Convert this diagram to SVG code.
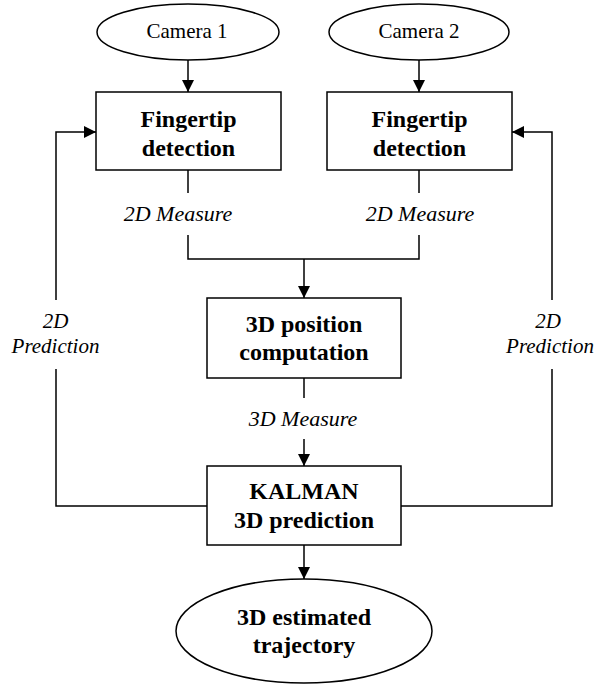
<svg xmlns="http://www.w3.org/2000/svg" width="596" height="684" viewBox="0 0 596 684">
<style>
.shape{fill:#fff;stroke:#000;stroke-width:1.5}
.ln{fill:none;stroke:#000;stroke-width:1.5}
.r{font-family:"Liberation Serif",serif;font-size:21px;text-anchor:middle}
.b{font-family:"Liberation Serif",serif;font-size:24px;font-weight:bold;text-anchor:middle}
.i{font-family:"Liberation Serif",serif;font-size:22px;font-style:italic;text-anchor:middle}
.p{font-family:"Liberation Serif",serif;font-size:21px;font-style:italic;text-anchor:middle}
</style>
<defs>
<marker id="ah" markerWidth="12" markerHeight="12" refX="12" refY="6" orient="auto" markerUnits="userSpaceOnUse">
<path d="M0,0 L12,6 L0,12 Z" fill="#000"/>
</marker>
</defs>
<rect width="596" height="684" fill="#fff"/>
<g id="connectors">
<line class="ln" x1="188" y1="60" x2="188" y2="92" marker-end="url(#ah)"/>
<line class="ln" x1="419" y1="60" x2="419" y2="92" marker-end="url(#ah)"/>
<line class="ln" x1="188" y1="170" x2="188" y2="193"/>
<line class="ln" x1="419" y1="170" x2="419" y2="193"/>
<polyline class="ln" points="188,235 188,259 419,259 419,235"/>
<line class="ln" x1="304" y1="259" x2="304" y2="298" marker-end="url(#ah)"/>
<line class="ln" x1="304" y1="378" x2="304" y2="398"/>
<line class="ln" x1="304" y1="439" x2="304" y2="466" marker-end="url(#ah)"/>
<line class="ln" x1="304" y1="545" x2="304" y2="579" marker-end="url(#ah)"/>
<polyline class="ln" points="207,506 56,506 56,369"/>
<polyline class="ln" points="56,300 56,132 96,132" marker-end="url(#ah)"/>
<polyline class="ln" points="401,506 552,506 552,369"/>
<polyline class="ln" points="552,300 552,132 512,132" marker-end="url(#ah)"/>
<text class="i" x="178" y="221">2D Measure</text>
<text class="i" x="420" y="221">2D Measure</text>
<text class="p" x="55.5" y="328">2D</text>
<text class="p" x="55.5" y="353">Prediction</text>
<text class="p" x="548" y="328">2D</text>
<text class="p" x="550" y="353">Prediction</text>
<text class="i" x="303" y="426">3D Measure</text>
</g>
<g id="camera1">
<ellipse class="shape" cx="188" cy="32" rx="91" ry="28"/>
<text class="r" x="187" y="38">Camera 1</text>
</g>
<g id="camera2">
<ellipse class="shape" cx="419" cy="32" rx="90" ry="28"/>
<text class="r" x="419" y="38">Camera 2</text>
</g>
<g id="fingertip1">
<rect class="shape" x="96" y="92" width="185" height="78"/>
<text class="b" x="188.5" y="127">Fingertip</text>
<text class="b" x="188.5" y="156">detection</text>
</g>
<g id="fingertip2">
<rect class="shape" x="327" y="92" width="185" height="78"/>
<text class="b" x="419.5" y="127">Fingertip</text>
<text class="b" x="419.5" y="156">detection</text>
</g>
<g id="position3d">
<rect class="shape" x="207" y="298" width="194" height="80"/>
<text class="b" x="304" y="332">3D position</text>
<text class="b" x="304" y="360">computation</text>
</g>
<g id="kalman">
<rect class="shape" x="207" y="466" width="194" height="79"/>
<text class="b" x="304" y="499">KALMAN</text>
<text class="b" x="304" y="528">3D prediction</text>
</g>
<g id="trajectory">
<ellipse class="shape" cx="304" cy="631" rx="128" ry="52"/>
<text class="b" x="304" y="625">3D estimated</text>
<text class="b" x="304" y="653">trajectory</text>
</g>
</svg>
